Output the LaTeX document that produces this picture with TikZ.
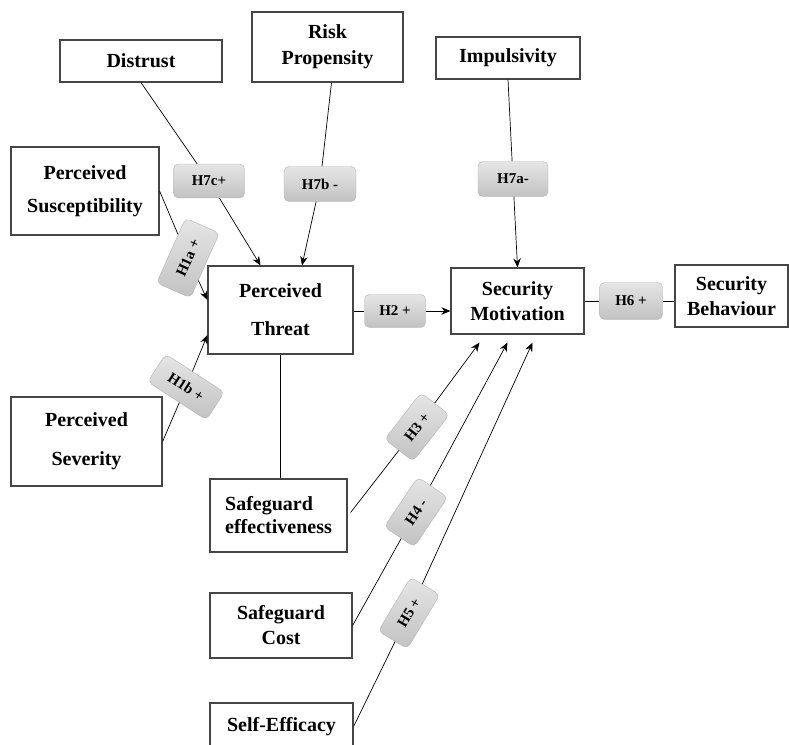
\documentclass[tikz,border=0pt]{standalone}
\usepackage{fontspec}
\setmainfont{Liberation Serif}
\usetikzlibrary{arrows.meta}

\begin{document}
\begin{tikzpicture}[x=1pt,y=1pt,>={Stealth[length=9pt,width=7.5pt]},
  cons/.style={draw=gray!55!black,line width=1.2pt,align=center,inner sep=0pt,
    font=\bfseries\fontsize{20}{22}\selectfont},
  hyp/.style={draw=gray!60,rounded corners=5pt,top color=gray!20,bottom color=gray!48,
    inner sep=0pt,font=\bfseries\fontsize{15}{17}\selectfont},
  link/.style={line width=0.7pt}]
  \useasboundingbox (0,0) rectangle (789,-744);
  \clip (0,0) rectangle (789,-744);
  % constructs
  \node[cons,minimum width=162,minimum height=42] (dis) at (141,-61) {Distrust};
  \node[cons,minimum width=151,minimum height=70] (rsk) at (327.5,-47) {Risk\\[4pt]Propensity};
  \node[cons,minimum width=144,minimum height=42] (imp) at (508,-58) {Impulsivity};
  \node[cons,minimum width=148,minimum height=88] (sus) at (85,-191) {Perceived\\[11pt]Susceptibility};
  \node[cons,minimum width=145,minimum height=88] (thr) at (280.5,-310) {Perceived\\[16pt]Threat};
  \node[cons,minimum width=133,minimum height=66] (mot) at (517.5,-301) {Security\\[3pt]Motivation};
  \node[cons,minimum width=113,minimum height=62] (beh) at (731.5,-296) {Security\\[3pt]Behaviour};
  \node[cons,minimum width=151,minimum height=89] (sev) at (86.5,-441.5) {Perceived\\[17pt]Severity};
  \node[cons,minimum width=137,minimum height=73,align=left] (eff) at (278.5,-515.5) {Safeguard\\[1pt]effectiveness};
  \node[cons,minimum width=142,minimum height=65] (cst) at (281,-625.5) {Safeguard\\[3pt]Cost};
  \node[cons,minimum width=143,minimum height=47] (slf) at (281.5,-726.5) {Self-Efficacy};
  % hypotheses
  \node[hyp,minimum width=71,minimum height=34] (h7c) at (209,-181) {H7c+};
  \node[hyp,minimum width=72,minimum height=35] (h7b) at (320,-184) {H7b -};
  \node[hyp,minimum width=70,minimum height=35] (h7a) at (513,-179) {H7a-};
  \node[hyp,minimum width=61,minimum height=33] (h2) at (395,-311) {H2 +};
  \node[hyp,minimum width=63,minimum height=37] (h6) at (631,-301) {H6 +};
  \node[hyp,minimum width=71,minimum height=37,rotate=66] (h1a) at (188,-258) {H1a +};
  \node[hyp,minimum width=70,minimum height=33,rotate=-33] (h1b) at (186,-387) {H1b +};
  \node[hyp,minimum width=59,minimum height=36,rotate=52] (h3) at (417,-427) {H3 +};
  \node[hyp,minimum width=60,minimum height=36,rotate=56] (h4) at (416,-512) {H4 -};
  \node[hyp,minimum width=63,minimum height=34,rotate=59] (h5) at (409,-613) {H5 +};
  % paths
  \draw[link] (dis.south) -- (h7c);
  \draw[link,->] (h7c) -- ([xshift=-20pt]thr.north);
  \draw[link] ([xshift=4pt]rsk.south) -- (h7b);
  \draw[link,->] (h7b) -- ([xshift=21.5pt]thr.north);
  \draw[link] (imp.south) -- (h7a);
  \draw[link,->] (h7a) -- (mot.north);
  \draw[link] (sus.east) -- (h1a);
  \draw[link,->] (h1a) -- ([yshift=10pt]thr.west);
  \draw[link] (sev.east) -- (h1b);
  \draw[link,->] (h1b) -- ([yshift=-25pt]thr.west);
  \draw[link] (thr.east |- h2) -- (h2);
  \draw[link,->] (h2) -- (h2 -| mot.west);
  \draw[link] (mot.east |- h6) -- (h6) -- (h6 -| beh.west);
  \draw[link] (thr.south) -- (thr.south |- eff.north);
  \draw[link] ([xshift=3pt,yshift=3pt]eff.east) -- (h3);
  \draw[link,->] (h3) -- ([shift={(-38pt,-8pt)}]mot.south);
  \draw[link] (cst.east) -- (h4);
  \draw[link,->] (h4) -- ([shift={(-10pt,-8pt)}]mot.south);
  \draw[link] (slf.east) -- (h5);
  \draw[link,->] (h5) -- ([shift={(15pt,-8pt)}]mot.south);
\end{tikzpicture}
\end{document}
